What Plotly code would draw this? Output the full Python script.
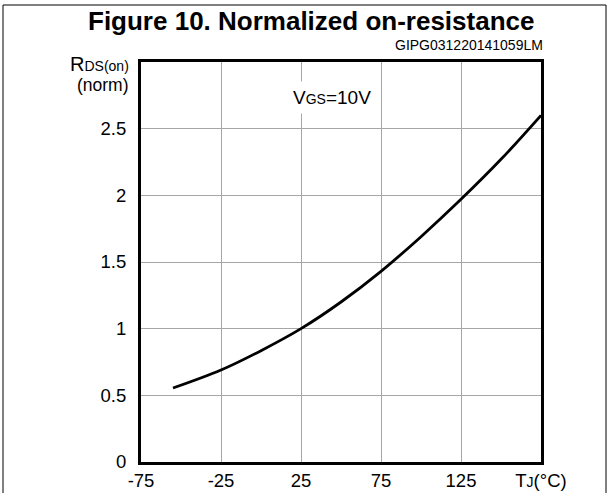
import plotly.graph_objects as go

# Data
temp_c = [-55, -25, 0, 25, 50, 75, 100, 125, 150, 175]
rds_norm = [0.555, 0.69, 0.835, 1.0, 1.2, 1.43, 1.69, 1.97, 2.27, 2.6]

x_tickvals = [-75, -25, 25, 75, 125, 175]
x_ticktext = ["-75", "-25", "25", "75", "125", "T<span style='font-size:14px'>J</span>(°C)"]
y_tickvals = [0, 0.5, 1, 1.5, 2, 2.5]
y_ticktext = ["0", "0.5", "1", "1.5", "2", "2.5"]

FONT = "Liberation Sans, Arial, sans-serif"
W, H = 614, 493
L, R, T, B = 141, 73, 62, 31
pw, ph = W - L - R, H - T - B

def px_x(x):
    return (x - L) / pw

def px_y(y):
    return (H - B - y) / ph

fig = go.Figure()
fig.add_trace(go.Scatter(
    x=temp_c, y=rds_norm, mode="lines",
    line=dict(color="black", width=2.8, shape="spline", smoothing=1.0),
    hoverinfo="skip", showlegend=False,
))

fig.update_layout(
    width=W, height=H,
    margin=dict(l=L, r=R, t=T, b=B, autoexpand=False),
    paper_bgcolor="white", plot_bgcolor="white",
    font=dict(family=FONT, size=18, color="black"),
    showlegend=False,
)
fig.update_xaxes(
    range=[-75, 175], tickvals=x_tickvals, ticktext=x_ticktext,
    showgrid=True, gridcolor="#a6a6a6", gridwidth=1,
    showline=True, linecolor="black", linewidth=3, mirror=True,
    zeroline=False, ticks="", tickfont=dict(size=18.5),
)
fig.update_yaxes(
    range=[0, 3], tickvals=y_tickvals, ticktext=y_ticktext,
    showgrid=True, gridcolor="#a6a6a6", gridwidth=1,
    showline=True, linecolor="black", linewidth=3, mirror=True,
    zeroline=False, ticks="", ticklabelstandoff=8, tickfont=dict(size=18.5),
)

annotations = [
    dict(text="<b>Figure 10. Normalized on-resistance</b>", x=px_x(311), y=px_y(21),
         xref="paper", yref="paper", showarrow=False, font=dict(size=26),
         xanchor="center", yanchor="middle"),
    dict(text="GIPG031220141059LM", x=px_x(545), y=px_y(45),
         xref="paper", yref="paper", showarrow=False, font=dict(size=14),
         xanchor="right", yanchor="middle"),
    dict(text="R<span style='font-size:14px'>DS(on)</span>", x=px_x(131), y=px_y(64),
         xref="paper", yref="paper", showarrow=False, font=dict(size=20),
         xanchor="right", yanchor="middle"),
    dict(text="(norm)", x=px_x(131), y=px_y(85),
         xref="paper", yref="paper", showarrow=False, font=dict(size=17.5),
         xanchor="right", yanchor="middle"),
    dict(text="V<span style='font-size:14px'>GS</span>=10V", x=px_x(332), y=px_y(98),
         xref="paper", yref="paper", showarrow=False, font=dict(size=19),
         xanchor="center", yanchor="middle", bgcolor="white", borderpad=5),
]
fig.update_layout(annotations=annotations)

fig.add_shape(type="rect", xref="paper", yref="paper",
              x0=px_x(3), x1=px_x(606), y0=px_y(520), y1=px_y(5),
              line=dict(color="black", width=1), layer="below")

fig.write_html("out.html", config={"displayModeBar": False},
               post_script="document.body.style.margin='0';")
